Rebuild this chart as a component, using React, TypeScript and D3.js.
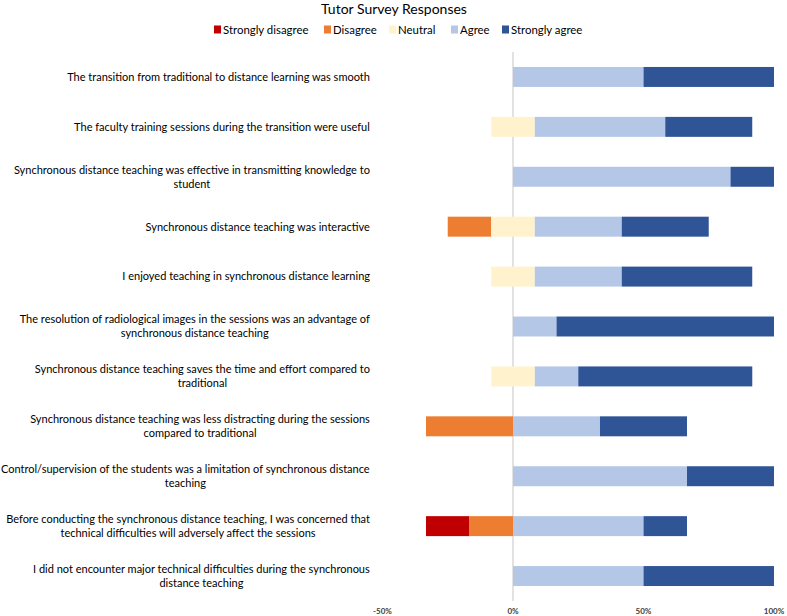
import React from "react";
import * as d3 from "d3";

const title = "Tutor Survey Responses";

const categories = [
  "The transition from traditional to distance learning was smooth",
  "The faculty training sessions during the transition were useful",
  "Synchronous distance teaching was effective in transmitting knowledge to\nstudent",
  "Synchronous distance teaching was interactive",
  "I enjoyed teaching in synchronous distance learning",
  "The resolution of radiological images in the sessions was an advantage of\nsynchronous distance teaching",
  "Synchronous distance teaching saves the time and effort compared to\ntraditional",
  "Synchronous distance teaching was less distracting during the sessions\ncompared to traditional",
  "Control/supervision of the students was a limitation of synchronous distance\nteaching",
  "Before conducting the synchronous distance teaching, I was concerned that\ntechnical difficulties will adversely affect the sessions",
  "I did not encounter major technical difficulties during the synchronous\ndistance teaching",
];

const seriesNames = ["Strongly disagree", "Disagree", "Neutral", "Agree", "Strongly agree"];
const seriesColors = ["#C00000", "#ED7D31", "#FFF2CC", "#B4C7E7", "#2F5597"];

// percentages of respondents
const stronglyDisagree = [0, 0, 0, 0, 0, 0, 0, 0, 0, 16.67, 0];
const disagree = [0, 0, 0, 16.67, 0, 0, 0, 33.33, 0, 16.67, 0];
const neutral = [0, 16.67, 0, 16.67, 16.67, 0, 16.67, 0, 0, 0, 0];
const agree = [50, 50, 83.33, 33.33, 33.33, 16.67, 16.67, 33.33, 66.67, 50, 50];
const stronglyAgree = [50, 33.33, 16.67, 33.33, 50, 83.33, 66.67, 33.33, 33.33, 16.67, 50];

const tickValues = [-50, 0, 50, 100];
const tickLabels = ["-50%", "0%", "50%", "100%"];

const W = 787;
const H = 616;
const FONT = "Lato, 'Open Sans', sans-serif";

export default function App() {
  const x = d3.scaleLinear().domain([-50, 100]).range([382.5, 774]);
  const y = d3
    .scaleBand<string>()
    .domain(categories)
    .range([52, 601])
    .paddingInner(0.6)
    .paddingOuter(0.3);

  const rows = categories.map((c, i) => {
    const left = -(stronglyDisagree[i] + disagree[i] + neutral[i] / 2);
    const vals = [stronglyDisagree[i], disagree[i], neutral[i], agree[i], stronglyAgree[i]];
    let cur = left;
    const segs = vals.map((v, k) => {
      const s = { x0: cur, x1: cur + v, k };
      cur += v;
      return s;
    });
    return { c, segs };
  });

  let ctx: CanvasRenderingContext2D | null = null;
  if (typeof document !== "undefined") {
    ctx = document.createElement("canvas").getContext("2d");
  }
  const labelSize = 11;
  const measure = (t: string) => {
    if (!ctx) return t.length * 5;
    ctx.font = `${labelSize}px Lato`;
    return ctx.measureText(t).width;
  };

  const labelRight = 370;

  const legendX = [214, 324, 389, 451, 502];

  return (
    <svg width={W} height={H} style={{ position: "absolute", left: 0, top: 0, background: "#fff" }} fontFamily={FONT}>
      <text x={394} y={14} textAnchor="middle" fontSize={14} fill="#000">
        {title}
      </text>
      {seriesNames.map((n, k) => (
        <g key={n}>
          <rect x={legendX[k]} y={25.5} width={7} height={8} fill={seriesColors[k]} />
          <text x={legendX[k] + 9} y={33.5} fontSize={11.4} fill="#000">
            {n}
          </text>
        </g>
      ))}
      <line x1={x(0)} x2={x(0)} y1={52} y2={601} stroke="#d9d9d9" strokeWidth={1.5} />
      {rows.map((r) => (
        <g key={r.c}>
          {r.segs
            .filter((s) => s.x1 - s.x0 > 0)
            .map((s) => (
              <rect
                key={s.k}
                x={x(s.x0)}
                y={y(r.c)!}
                width={x(s.x1) - x(s.x0)}
                height={y.bandwidth()}
                fill={seriesColors[s.k]}
              />
            ))}
        </g>
      ))}
      {categories.map((c) => {
        const lines = c.split("\n");
        const cy = y(c)! + y.bandwidth() / 2;
        const maxW = Math.max(...lines.map(measure));
        const cx = labelRight - maxW / 2;
        const lh = 14;
        const y0 = cy - ((lines.length - 1) * lh) / 2;
        return (
          <text key={c} fontSize={labelSize} fill="#000" textAnchor="middle" fontFamily="Lato">
            {lines.map((l, i) => (
              <tspan key={i} x={cx} y={y0 + i * lh} dy="0.35em">
                {l}
              </tspan>
            ))}
          </text>
        );
      })}
      {tickValues.map((t, i) => (
        <text key={t} x={x(t)} y={614} textAnchor="middle" fontSize={8} fontWeight="bold" fill="#404040">
          {tickLabels[i]}
        </text>
      ))}
    </svg>
  );
}
